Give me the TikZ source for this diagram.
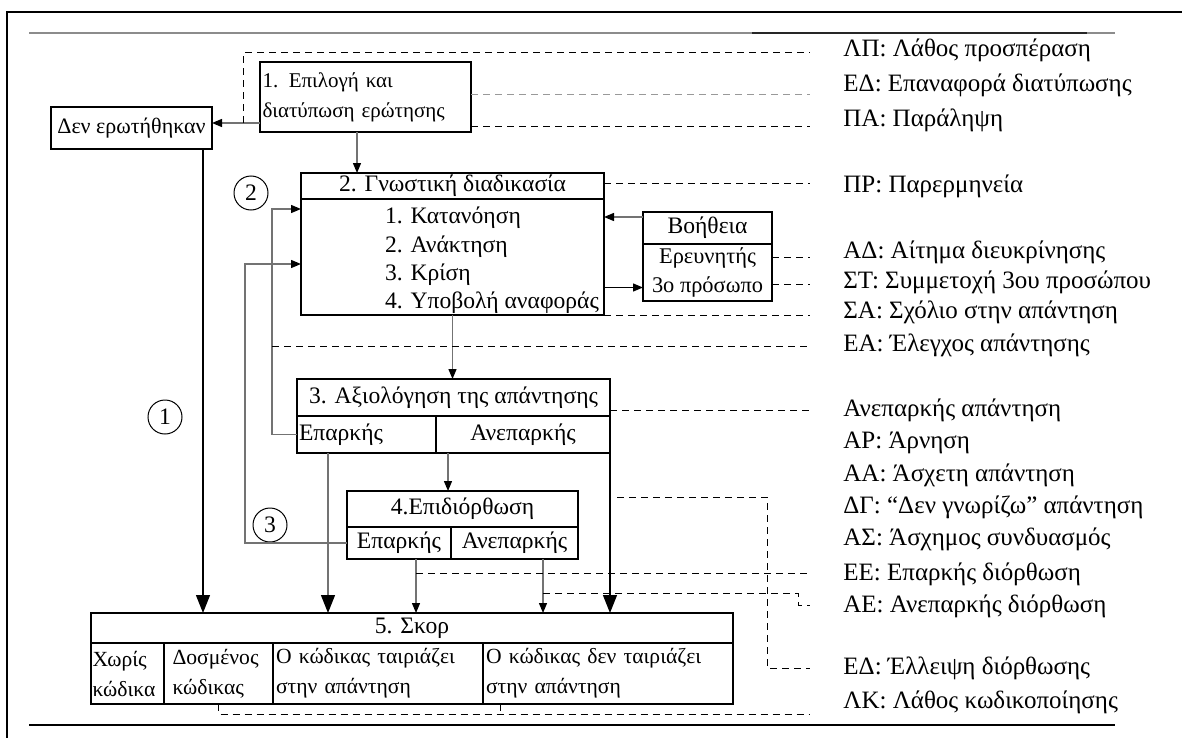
\documentclass[tikz,border=0pt]{standalone}
\usepackage{fontspec}
\setmainfont{Liberation Serif}
\usetikzlibrary{positioning, calc, arrows.meta}
\tikzset{
    box/.style={draw, line width=0.65pt, inner sep=1pt, outer sep=0pt},
    cell/.style={box, text height=8pt, text depth=2.5pt},
    txt/.style={inner sep=0pt, outer sep=0pt},
    smallfont/.style={font=\fontsize{10.5pt}{15pt}\selectfont},
    cellfont/.style={font=\fontsize{10.8pt}{15pt}\selectfont},
    legend/.style={anchor=west, inner sep=0pt, font=\fontsize{12.5pt}{15pt}\selectfont},
    numcirc/.style={draw, circle, line width=0.5pt, minimum size=17pt, inner sep=0pt},
    dline/.style={draw, line width=0.5pt, dash pattern=on 3.5pt off 2.5pt},
    gdline/.style={dline, draw=black!40},
    garrow/.style={draw=black!55, line width=0.65pt, -{Triangle[length=5pt, width=4pt, color=black]}},
    darrow/.style={draw, line width=0.65pt, -{Triangle[length=5pt, width=4pt]}},
    barrow/.style={draw, line width=0.65pt, -{Triangle[length=9pt, width=7pt]}},
    gbarrow/.style={draw=black!55, line width=0.65pt, -{Triangle[length=9pt, width=7pt, color=black]}}
}
\begin{document}
\begin{tikzpicture}[x=0.5pt, y=-0.5pt, font=\fontsize{11.8pt}{15pt}\selectfont]
  \useasboundingbox (0,0) rectangle (1182,738);
  % frame and rules
  \draw[line width=0.6pt] (7,738) -- (7,12) -- (1182,12);
  \draw[black!45, line width=1pt] (29,33) -- (1115,33);
  \draw[black!85, line width=1pt] (752,33) -- (1087,33);
  \draw[line width=0.8pt] (29,725) -- (1115,725);

  % question
  \node(q1)[box, smallfont, minimum width=105.5pt, minimum height=35pt, text width=103pt, align=left] at (365.5,97) {1. Επιλογή και\\διατύπωση ερώτησης};
  \node(notasked)[cell, font=\fontsize{11pt}{15pt}\selectfont, minimum width=80.5pt, minimum height=21pt] at (131.5,128) {Δεν ερωτήθηκαν};

  % cognitive process
  \node(gdhead)[cell, minimum width=151.5pt, minimum height=13pt] at (452.5,186) {2. Γνωστική διαδικασία};
  \node(gdbody)[box, minimum width=151.5pt, minimum height=58pt] at (452.5,257) {};
  \node(g1)[txt, anchor=west] at (385,218) {1. Κατανόηση};
  \node(g2)[txt, anchor=west] at (385,247) {2. Ανάκτηση};
  \node(g3)[txt, anchor=west] at (385,275) {3. Κρίση};
  \node(g4)[txt, anchor=west] at (385,303) {4. Υποβολή αναφοράς};

  \node(helphead)[cell, minimum width=64.5pt, minimum height=16pt] at (707.5,228) {Βοήθεια};
  \node(helpbody)[box, font=\fontsize{11.2pt}{14.5pt}\selectfont, minimum width=64.5pt, minimum height=28.5pt, align=center, inner sep=0.5pt] at (707.5,272.5) {Ερευνητής\\3ο πρόσωπο};

  % evaluation
  \node(evhead)[cell, minimum width=156.5pt, minimum height=18.5pt] at (453.5,397.5) {3. Αξιολόγηση της απάντησης};
  \node(evok)[cell, minimum width=69.5pt, minimum height=18.5pt, text width=67.5pt, align=left] at (366.5,434.5) {Επαρκής};
  \node(evbad)[cell, minimum width=87pt, minimum height=18.5pt] at (523,434.5) {Ανεπαρκής};

  % repair
  \node(fixhead)[cell, minimum width=115.5pt, minimum height=18pt] at (462.5,509) {4.Επιδιόρθωση};
  \node(fixok)[cell, minimum width=52pt, minimum height=16pt] at (399,543) {Επαρκής};
  \node(fixbad)[cell, minimum width=63.5pt, minimum height=16pt] at (514.5,543) {Ανεπαρκής};

  % score
  \node(scorehead)[cell, minimum width=321pt, minimum height=15pt] at (412,628) {5. Σκορ};
  \node(c1)[box, cellfont, minimum width=36.5pt, minimum height=30.5pt, text width=35pt, align=left, inner sep=0.5pt] at (127.5,673.5) {Χωρίς\\κώδικα};
  \node(c2)[box, cellfont, minimum width=54.5pt, minimum height=30.5pt, text width=46pt, align=left] at (218.5,673.5) {Δοσμένος\\κώδικας};
  \node(c3)[box, cellfont, minimum width=105pt, minimum height=30.5pt, text width=102pt, align=left] at (378,673.5) {Ο κώδικας ταιριάζει\\στην απάντηση};
  \node(c4)[box, cellfont, minimum width=125pt, minimum height=30.5pt, text width=122pt, align=left] at (608,673.5) {Ο κώδικας δεν ταιριάζει\\στην απάντηση};

  \node(n1)[numcirc] at (165,417) {1};
  \node(n2)[numcirc] at (251,193) {2};
  \node(n3)[numcirc] at (270,525) {3};

  % legend
  \foreach \nm/\yy/\txt in {LP/50/{ΛΠ: Λάθος προσπέραση}, ED/85/{ΕΔ: Επαναφορά διατύπωσης},
      PA/120/{ΠΑ: Παράληψη}, PR/186/{ΠΡ: Παρερμηνεία}, AD/252/{ΑΔ: Αίτημα διευκρίνησης},
      ST/282/{ΣΤ: Συμμετοχή 3ου προσώπου}, SA/312/{ΣΑ: Σχόλιο στην απάντηση},
      EA/345/{ΕΑ: Έλεγχος απάντησης}, AN/410/{Ανεπαρκής απάντηση}, AR/443/{ΑΡ: Άρνηση},
      AA/475/{ΑΑ: Άσχετη απάντηση}, DG/507/{ΔΓ: “Δεν γνωρίζω” απάντηση},
      AS/539/{ΑΣ: Άσχημος συνδυασμός}, EE/574/{ΕΕ: Επαρκής διόρθωση},
      AE/606/{ΑΕ: Ανεπαρκής διόρθωση}, EL/668/{ΕΔ: Έλλειψη διόρθωσης},
      LK/702/{ΛΚ: Λάθος κωδικοποίησης}}
    \node(l\nm)[legend] at (843,\yy) {\txt};
  \foreach \nm/\yy in {LP/53, ED/95, PA/126, PR/183, AD/257, ST/284, SA/315, EA/346,
      AN/410, EE/573, AE/605, EL/668, LK/714}
    \coordinate (e\nm) at (810,\yy);

  % question links
  \coordinate (lpstart) at (243,123);
  \draw[garrow] (lpstart -| q1.west) -- (lpstart -| notasked.east);
  \draw[dline] (lpstart) |- (eLP);
  \draw[gdline] (q1.east |- eED) -- (eED);
  \draw[dline] (q1.east |- ePA) -- (ePA);
  \coordinate (a0) at ([xshift=-4.25pt]q1.south);
  \draw[garrow] (a0) -- (a0 |- gdhead.north);

  % help
  \coordinate (hin) at ([yshift=5.5pt]helphead.west);
  \coordinate (h3) at ([yshift=-7.5pt]helpbody.west);
  \draw[dline] (gdhead.east |- ePR) -- (ePR);
  \draw[garrow] (hin) -- (hin -| gdbody.east);
  \draw[darrow] (h3 -| gdbody.east) -- (h3);
  \draw[dline] (helpbody.east |- eAD) -- (eAD);
  \draw[dline] (helpbody.east |- eST) -- (eST);
  \draw[dline] (gdbody.south east) -- (eSA);
  \draw[garrow] (gdbody.south) -- (gdbody.south |- evhead.north);

  % loops back
  \coordinate (lx2) at (272,346);
  \coordinate (lx3) at (245,346);
  \coordinate (in2) at ([yshift=24pt]gdbody.west);
  \coordinate (in3) at ([yshift=-3.5pt]gdbody.west);
  \draw[garrow] (evok.west) -| (lx2) |- (in2);
  \draw[garrow] (fixok.west) -| (lx3) |- (in3);
  \draw[dline] (lx2) -- (eEA);

  % evaluation and repair
  \draw[dline] (evhead.east |- eAN) -- (eAN);
  \coordinate (a34) at ([xshift=-37.5pt]evbad.south);
  \draw[garrow] (a34) -- (a34 |- fixhead.north);

  % into score
  \coordinate (a1) at ([xshift=35.75pt]notasked.south);
  \coordinate (a2) at ([xshift=-19.25pt]evok.south);
  \coordinate (a3) at ([xshift=8.5pt]fixok.south);
  \coordinate (a4) at ([xshift=14.25pt]fixbad.south);
  \draw[barrow] (a1) -- (a1 |- scorehead.north);
  \draw[gbarrow] (a2) -- (a2 |- scorehead.north);
  \draw[barrow] (evbad.south east) -- (evbad.south east |- scorehead.north);
  \draw[garrow] (a3) -- (a3 |- scorehead.north);
  \draw[garrow] (a4) -- (a4 |- scorehead.north);

  \coordinate (sEL) at (617,497);
  \coordinate (cEL) at (767,497);
  \coordinate (cAE) at (798,593);
  \draw[dline] (sEL) -- (cEL) |- (eEL);
  \draw[dline] (a3 |- eEE) -- (eEE);
  \draw[dline] (a4 |- cAE) -- (cAE) |- (eAE);
  \coordinate (t2) at ([xshift=8.5pt]c4.south west);
  \draw[dline] (c2.south) |- (eLK);
  \draw[dline] (t2) -- (t2 |- eLK);
\end{tikzpicture}
\end{document}
